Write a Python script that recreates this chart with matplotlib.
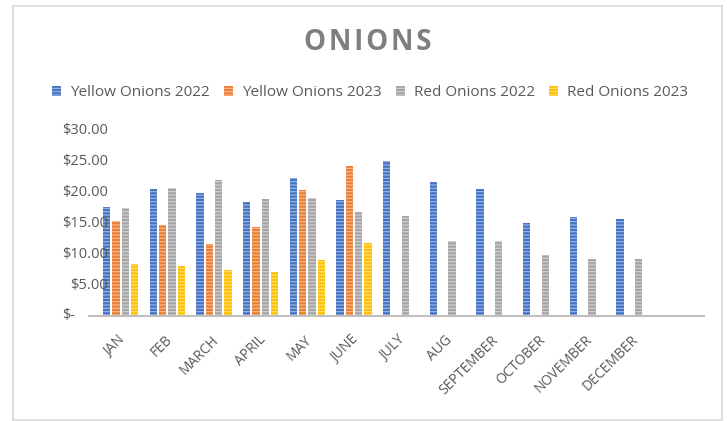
import numpy as np
import matplotlib
matplotlib.use('Agg')
import matplotlib.pyplot as plt
from matplotlib.patches import Rectangle
from matplotlib.transforms import blended_transform_factory, ScaledTranslation

# monthly onion prices, blank slot at the end like the sheet had
months = ['JAN', 'FEB', 'MARCH', 'APRIL', 'MAY', 'JUNE', 'JULY', 'AUG',
          'SEPTEMBER', 'OCTOBER', 'NOVEMBER', 'DECEMBER', '']
yellow_2022 = [17.7, 20.6, 19.9, 18.5, 22.3, 18.8, 25.1, 21.8, 20.6, 15.1, 16.0, 15.7, np.nan]
yellow_2023 = [15.4, 14.7, 11.7, 14.4, 20.4, 24.3, np.nan, np.nan, np.nan, np.nan, np.nan, np.nan, np.nan]
red_2022 = [17.5, 20.8, 22.1, 19.0, 19.2, 16.9, 16.2, 12.1, 12.1, 9.9, 9.3, 9.3, np.nan]
red_2023 = [8.4, 8.1, 7.5, 7.1, 9.1, 11.8, np.nan, np.nan, np.nan, np.nan, np.nan, np.nan, np.nan]
y_ticks = [0, 5, 10, 15, 20, 25, 30]

series = [
    ('Yellow Onions 2022', yellow_2022, '#4472C4'),
    ('Yellow Onions 2023', yellow_2023, '#ED7D31'),
    ('Red Onions 2022', red_2022, '#A5A5A5'),
    ('Red Onions 2023', red_2023, '#FFC000'),
]

plt.rcParams['font.family'] = ['Open Sans', 'DejaVu Sans']
plt.rcParams['hatch.linewidth'] = 0.8
text_col = '#595959'

W, H = 727, 421
fig = plt.figure(figsize=(W / 100, H / 100), dpi=100)

# thin frame around the whole chart
fig.patches.append(Rectangle((13 / W, 1 - 420 / H), (722 - 13) / W, (420 - 6) / H,
                             transform=fig.transFigure, fill=False,
                             edgecolor='#D9D9D9', linewidth=1.2))

ax = fig.add_axes([89 / W, 1 - 316 / H, (704 - 89) / W, (316 - 131) / H])

x = np.arange(len(months))
bw = 0.2
for i, (name, vals, col) in enumerate(series):
    off = (i - 1.5) * bw
    lighter = tuple(c + (1 - c) * 0.5 for c in matplotlib.colors.to_rgb(col))
    ax.bar(x + off, vals, width=bw * 0.8, color=col, edgecolor=lighter,
           linewidth=0, hatch='-----', label=name)

ax.set_xlim(-0.68, 12.5)
ax.set_ylim(0, 30)
for s in ['top', 'right', 'left']:
    ax.spines[s].set_visible(False)
ax.spines['bottom'].set_color('#BFBFBF')
ax.spines['bottom'].set_linewidth(1.5)

# accounting style labels: "$-" for zero, right aligned amounts otherwise
ax.set_yticks(y_ticks)
ax.set_yticklabels([])
ax.tick_params(axis='y', length=0)
tr = blended_transform_factory(fig.transFigure, ax.transData)
for v in y_ticks:
    if v == 0:
        ax.text(62 / W, v, '$-', transform=tr, ha='left', va='center',
                fontsize=10.5, color=text_col)
    else:
        ax.text(108 / W, v, f'${v:.2f}', transform=tr, ha='right', va='center',
                fontsize=10.5, color=text_col)

ax.set_xticks(x)
ax.set_xticklabels(months, rotation=45, ha='right', rotation_mode='anchor',
                   fontsize=10, color=text_col)
ax.tick_params(axis='x', length=0, pad=12)
shift = ScaledTranslation(-3 / 100, 0, fig.dpi_scale_trans)
for lab in ax.get_xticklabels():
    lab.set_transform(lab.get_transform() + shift)

fig.text(368 / W, 1 - 43 / H, '\u200a'.join('ONIONS'), ha='center', va='center',
         fontsize=20, fontweight='bold', color='#7F7F7F')

fig.legend(loc='center', bbox_to_anchor=(370 / W, 1 - 93 / H), ncol=4,
           frameon=False, fontsize=11, labelcolor=text_col,
           handlelength=0.6, handleheight=0.6, handletextpad=0.6,
           columnspacing=0.9)

fig.savefig('out.png', dpi=100)
